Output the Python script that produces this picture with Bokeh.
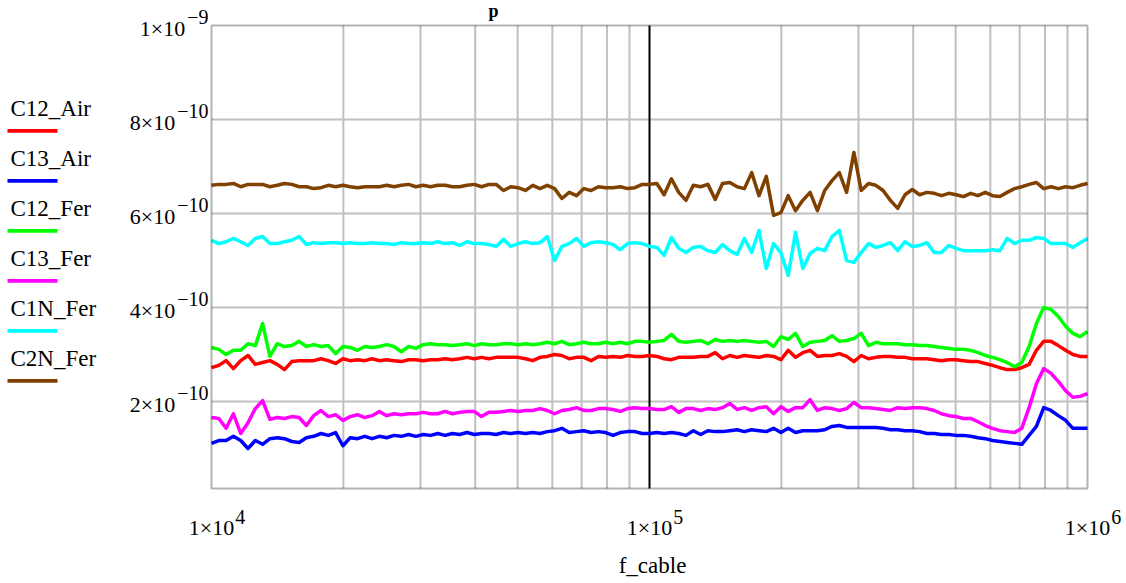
import numpy as np
from bokeh.plotting import figure
from bokeh.models import Label, BoxAnnotation
from bokeh.embed import file_html
from bokeh.resources import INLINE

# ---------------- data (capacitance in units of 1e-10 F) ----------------
UNIT = 1e-10
f_cable = 10 ** np.linspace(4, 6, 121)

C12_Air = [2.72, 2.77, 2.87, 2.70, 2.87, 2.98, 2.79, 2.83, 2.87, 2.79,
           2.68, 2.85, 2.87, 2.87, 2.87, 2.91, 2.87, 2.81, 2.91, 2.87,
           2.89, 2.87, 2.91, 2.87, 2.89, 2.87, 2.85, 2.89, 2.89, 2.87,
           2.89, 2.89, 2.91, 2.89, 2.91, 2.94, 2.91, 2.94, 2.91, 2.94,
           2.94, 2.94, 2.94, 2.91, 2.87, 2.94, 2.96, 3.00, 2.98, 2.91,
           2.94, 2.94, 2.87, 2.96, 2.94, 2.96, 2.94, 2.98, 2.96, 2.96,
           2.98, 2.96, 2.91, 2.89, 2.94, 2.94, 2.94, 2.96, 2.96, 3.04,
           2.91, 2.98, 2.94, 2.98, 2.96, 2.94, 2.98, 2.96, 2.89, 3.09,
           2.94, 3.04, 3.09, 2.96, 2.98, 2.98, 3.02, 2.96, 2.85, 2.98,
           2.91, 2.94, 2.96, 2.96, 2.94, 2.94, 2.91, 2.91, 2.91, 2.89,
           2.87, 2.89, 2.89, 2.87, 2.85, 2.85, 2.81, 2.77, 2.72, 2.68,
           2.68, 2.72, 2.79, 3.09, 3.28, 3.28, 3.19, 3.09, 3.00, 2.96, 2.96]

C13_Air = [1.11, 1.17, 1.17, 1.26, 1.17, 1.00, 1.17, 1.09, 1.21, 1.23,
           1.21, 1.15, 1.13, 1.23, 1.26, 1.32, 1.28, 1.34, 1.06, 1.23,
           1.21, 1.26, 1.21, 1.26, 1.23, 1.28, 1.26, 1.30, 1.26, 1.30,
           1.28, 1.32, 1.28, 1.32, 1.30, 1.34, 1.30, 1.32, 1.32, 1.30,
           1.34, 1.32, 1.34, 1.32, 1.34, 1.32, 1.36, 1.38, 1.43, 1.34,
           1.36, 1.38, 1.34, 1.36, 1.34, 1.28, 1.34, 1.36, 1.36, 1.32,
           1.32, 1.34, 1.32, 1.34, 1.32, 1.28, 1.38, 1.30, 1.38, 1.36,
           1.36, 1.38, 1.40, 1.36, 1.40, 1.38, 1.36, 1.43, 1.34, 1.43,
           1.34, 1.38, 1.38, 1.38, 1.40, 1.47, 1.49, 1.45, 1.45, 1.45,
           1.45, 1.45, 1.43, 1.40, 1.40, 1.38, 1.38, 1.36, 1.32, 1.32,
           1.30, 1.30, 1.28, 1.28, 1.26, 1.23, 1.21, 1.17, 1.15, 1.13,
           1.11, 1.09, 1.28, 1.47, 1.87, 1.81, 1.70, 1.60, 1.43, 1.43, 1.43]

C12_Fer = [3.15, 3.11, 3.00, 3.09, 3.09, 3.23, 3.19, 3.66, 2.96, 3.23,
           3.17, 3.19, 3.28, 3.17, 3.21, 3.17, 3.19, 3.02, 3.17, 3.15,
           3.09, 3.17, 3.15, 3.17, 3.21, 3.17, 3.06, 3.17, 3.13, 3.21,
           3.23, 3.21, 3.21, 3.19, 3.21, 3.23, 3.19, 3.23, 3.21, 3.21,
           3.23, 3.23, 3.21, 3.23, 3.21, 3.23, 3.26, 3.23, 3.28, 3.21,
           3.23, 3.26, 3.23, 3.23, 3.26, 3.23, 3.26, 3.23, 3.28, 3.28,
           3.26, 3.28, 3.30, 3.43, 3.28, 3.26, 3.28, 3.30, 3.23, 3.32,
           3.28, 3.30, 3.28, 3.30, 3.28, 3.26, 3.28, 3.17, 3.38, 3.32,
           3.45, 3.17, 3.26, 3.28, 3.30, 3.40, 3.28, 3.30, 3.34, 3.45,
           3.19, 3.26, 3.23, 3.23, 3.23, 3.21, 3.21, 3.19, 3.19, 3.17,
           3.15, 3.13, 3.11, 3.11, 3.09, 3.04, 2.98, 2.94, 2.89, 2.83,
           2.74, 2.83, 3.17, 3.66, 4.00, 3.96, 3.81, 3.60, 3.45, 3.38, 3.49]

C13_Fer = [1.66, 1.64, 1.43, 1.74, 1.32, 1.55, 1.85, 2.02, 1.62, 1.66,
           1.64, 1.68, 1.66, 1.49, 1.70, 1.81, 1.68, 1.72, 1.60, 1.68,
           1.72, 1.66, 1.70, 1.79, 1.70, 1.74, 1.72, 1.74, 1.74, 1.77,
           1.74, 1.74, 1.79, 1.74, 1.77, 1.79, 1.79, 1.68, 1.77, 1.77,
           1.79, 1.81, 1.79, 1.81, 1.81, 1.85, 1.81, 1.74, 1.81, 1.83,
           1.87, 1.81, 1.81, 1.85, 1.85, 1.83, 1.79, 1.85, 1.87, 1.85,
           1.85, 1.83, 1.83, 1.89, 1.77, 1.85, 1.85, 1.81, 1.85, 1.83,
           1.87, 1.96, 1.83, 1.87, 1.81, 1.87, 1.89, 1.74, 1.89, 1.79,
           1.87, 1.87, 2.04, 1.81, 1.87, 1.85, 1.81, 1.85, 1.98, 1.87,
           1.87, 1.85, 1.83, 1.81, 1.87, 1.85, 1.87, 1.87, 1.85, 1.81,
           1.74, 1.70, 1.68, 1.64, 1.64, 1.57, 1.49, 1.43, 1.38, 1.36,
           1.34, 1.43, 1.87, 2.38, 2.70, 2.60, 2.43, 2.23, 2.09, 2.11, 2.17]

C1N_Fer = [5.43, 5.36, 5.40, 5.47, 5.40, 5.32, 5.47, 5.51, 5.36, 5.36,
           5.40, 5.43, 5.51, 5.34, 5.38, 5.36, 5.38, 5.38, 5.36, 5.38,
           5.36, 5.36, 5.38, 5.36, 5.36, 5.34, 5.38, 5.36, 5.36, 5.38,
           5.36, 5.40, 5.36, 5.38, 5.32, 5.40, 5.36, 5.36, 5.34, 5.30,
           5.45, 5.30, 5.36, 5.40, 5.36, 5.38, 5.51, 5.00, 5.30, 5.36,
           5.47, 5.30, 5.38, 5.40, 5.38, 5.34, 5.23, 5.36, 5.38, 5.36,
           5.30, 5.28, 5.11, 5.49, 5.26, 5.17, 5.28, 5.30, 5.21, 5.17,
           5.34, 5.21, 5.13, 5.47, 5.17, 5.64, 4.83, 5.36, 5.17, 4.68,
           5.60, 4.83, 5.15, 5.26, 5.21, 5.51, 5.64, 5.00, 4.96, 5.17,
           5.36, 5.28, 5.32, 5.38, 5.21, 5.40, 5.30, 5.32, 5.38, 5.17,
           5.17, 5.32, 5.26, 5.21, 5.21, 5.21, 5.21, 5.23, 5.21, 5.47,
           5.36, 5.43, 5.43, 5.49, 5.47, 5.36, 5.36, 5.36, 5.28, 5.38, 5.47]

C2N_Fer = [6.60, 6.62, 6.62, 6.64, 6.57, 6.62, 6.62, 6.62, 6.57, 6.60,
           6.64, 6.62, 6.57, 6.57, 6.53, 6.55, 6.60, 6.57, 6.60, 6.57,
           6.55, 6.57, 6.57, 6.57, 6.60, 6.57, 6.60, 6.62, 6.57, 6.60,
           6.57, 6.60, 6.60, 6.57, 6.57, 6.60, 6.62, 6.57, 6.62, 6.62,
           6.49, 6.57, 6.55, 6.49, 6.60, 6.53, 6.60, 6.53, 6.32, 6.45,
           6.38, 6.53, 6.49, 6.57, 6.55, 6.55, 6.57, 6.53, 6.55, 6.62,
           6.62, 6.64, 6.40, 6.74, 6.45, 6.28, 6.60, 6.57, 6.62, 6.30,
           6.64, 6.66, 6.57, 6.53, 6.87, 6.38, 6.79, 5.96, 6.02, 6.38,
           6.06, 6.28, 6.45, 6.06, 6.49, 6.70, 6.87, 6.45, 7.30, 6.49,
           6.64, 6.60, 6.49, 6.28, 6.11, 6.40, 6.51, 6.40, 6.45, 6.43,
           6.38, 6.43, 6.40, 6.36, 6.43, 6.38, 6.45, 6.38, 6.36, 6.45,
           6.53, 6.57, 6.62, 6.66, 6.53, 6.57, 6.53, 6.57, 6.55, 6.60, 6.64]

series_names = ["C12_Air", "C13_Air", "C12_Fer", "C13_Fer", "C1N_Fer", "C2N_Fer"]
series_values = [C12_Air, C13_Air, C12_Fer, C13_Fer, C1N_Fer, C2N_Fer]
series_colors = ["#ff0000", "#0000ff", "#00ff00", "#ff00ff", "#00ffff", "#804000"]

x_ticks = [1e4, 1e5, 1e6]
x_tick_exps = ["4", "5", "6"]
x_grid = [2e4, 3e4, 4e4, 5e4, 6e4, 7e4, 8e4, 9e4,
          2e5, 3e5, 4e5, 5e5, 6e5, 7e5, 8e5, 9e5]
x_marker = [1e5]
y_ticks = [2e-10, 4e-10, 6e-10, 8e-10, 1e-9]
y_grid = [2e-10, 4e-10, 6e-10, 8e-10]
y_tick_mants = ["2", "4", "6", "8", "1"]
y_tick_exps = ["\u221210", "\u221210", "\u221210", "\u221210", "\u22129"]
x_title = "f_cable"
title_fragment = "p"   # the only visible piece of the chart title
X_MIN, X_MAX = 1e4, 1e6
Y_MIN, Y_MAX = 1.5e-11, 1e-9

# ---------------- layout (page pixels) ----------------
W, H = 1126, 583
BOX_L, BOX_R, BOX_T, BOX_B = 211, 1087, 25, 488
FONT = "Liberation Serif"
TICK_FS, SUP_FS, LEG_FS = 22, 20, 23
CW = {"\u2212": 0.564, "\u00d7": 0.564}


def text_w(s, fs):
    return sum(CW.get(c, 0.5) for c in s) * fs


def corr(fs):  # Bokeh places the alphabetic baseline ~0.36em below the anchor
    return 0.36 * fs


def sy(page_y):  # page y (top-down) -> screen y from bottom of frame
    return H - page_y


# frame covers the whole canvas; the plot box is drawn inside it
dec_px = (BOX_R - BOX_L) / np.log10(X_MAX / X_MIN)
x_rng = (10 ** (np.log10(X_MIN) - BOX_L / dec_px),
         10 ** (np.log10(X_MAX) + (W - BOX_R) / dec_px))
y_per_px = (Y_MAX - Y_MIN) / (BOX_B - BOX_T)
y_rng = (Y_MIN - (H - BOX_B) * y_per_px, Y_MAX + BOX_T * y_per_px)

p = figure(width=W, height=H, x_axis_type="log", x_range=x_rng, y_range=y_rng,
           x_axis_location=None, y_axis_location=None,
           output_backend="svg", toolbar_location=None,
           min_border=0, min_border_left=0, min_border_right=0,
           min_border_top=0, min_border_bottom=0)
p.background_fill_color = "white"
p.border_fill_color = "white"
p.outline_line_color = None
p.xgrid.visible = False
p.ygrid.visible = False

# grid lines limited to the plot box
p.segment(x0=x_grid, x1=x_grid, y0=[Y_MIN] * len(x_grid), y1=[Y_MAX] * len(x_grid),
          line_color="#c0c0c0", line_width=2)
p.segment(x0=[X_MIN] * len(y_grid), x1=[X_MAX] * len(y_grid), y0=y_grid, y1=y_grid,
          line_color="#c0c0c0", line_width=2)
p.segment(x0=x_marker, x1=x_marker, y0=[Y_MIN], y1=[Y_MAX],
          line_color="black", line_width=2)

for vals, color in zip(series_values, series_colors):
    p.line(f_cable, np.array(vals) * UNIT, line_color=color, line_width=3.5,
           line_join="round")

# plot box outline
p.add_layout(BoxAnnotation(left=X_MIN, right=X_MAX, bottom=Y_MIN, top=Y_MAX,
                           fill_alpha=0, line_color="black", line_width=2))

# x tick labels
for t, e in zip(x_ticks, x_tick_exps):
    base = "1\u00d710"
    p.add_layout(Label(x=t, y=sy(535) + corr(TICK_FS), x_units="data",
                       y_units="screen", text=base, text_align="center",
                       text_baseline="alphabetic", text_font=FONT,
                       text_font_size=f"{TICK_FS}px", text_color="black"))
    p.add_layout(Label(x=t, y=sy(524) + corr(SUP_FS), x_units="data",
                       y_units="screen", x_offset=text_w(base, TICK_FS) / 2 + 1,
                       text=e, text_align="left", text_baseline="alphabetic",
                       text_font=FONT, text_font_size=f"{SUP_FS}px",
                       text_color="black"))

# y tick labels
for t, m, e in zip(y_ticks, y_tick_mants, y_tick_exps):
    right = 208
    p.add_layout(Label(x=right, y=t, x_units="screen", y_units="data",
                       y_offset=1 + corr(SUP_FS), text=e, text_align="right",
                       text_baseline="alphabetic", text_font=FONT,
                       text_font_size=f"{SUP_FS}px", text_color="black"))
    p.add_layout(Label(x=right - text_w(e, SUP_FS) - 2, y=t, x_units="screen",
                       y_units="data", y_offset=-10.5 + corr(TICK_FS),
                       text=m + "\u00d710", text_align="right",
                       text_baseline="alphabetic", text_font=FONT,
                       text_font_size=f"{TICK_FS}px", text_color="black"))

# axis title
p.add_layout(Label(x=(BOX_L + BOX_R) / 2 + 3, y=sy(573) + corr(LEG_FS),
                   x_units="screen", y_units="screen", text=x_title,
                   text_align="center", text_baseline="alphabetic", text_font=FONT,
                   text_font_size=f"{LEG_FS}px", text_color="black"))

# visible piece of the chart title at the top
p.add_layout(Label(x=488, y=sy(17) + corr(18), x_units="screen", y_units="screen",
                   text=title_fragment, text_align="left",
                   text_baseline="alphabetic", text_font=FONT,
                   text_font_size="18px", text_font_style="bold",
                   text_color="black"))

# legend (Mathcad style: name above a line sample)
for k, (name, color) in enumerate(zip(series_names, series_colors)):
    p.add_layout(Label(x=10, y=sy(116 + 50 * k) + corr(LEG_FS), x_units="screen",
                       y_units="screen", text=name, text_align="left",
                       text_baseline="alphabetic", text_font=FONT,
                       text_font_size=f"{LEG_FS}px", text_color="black"))
    p.add_layout(BoxAnnotation(left=7, right=57,
                               bottom=sy(132.2 + 50 * k), top=sy(128.5 + 50 * k),
                               left_units="screen", right_units="screen",
                               bottom_units="screen", top_units="screen",
                               fill_color=color, fill_alpha=1.0,
                               line_color=None))

open("out.html", "w").write(file_html(p, INLINE))
